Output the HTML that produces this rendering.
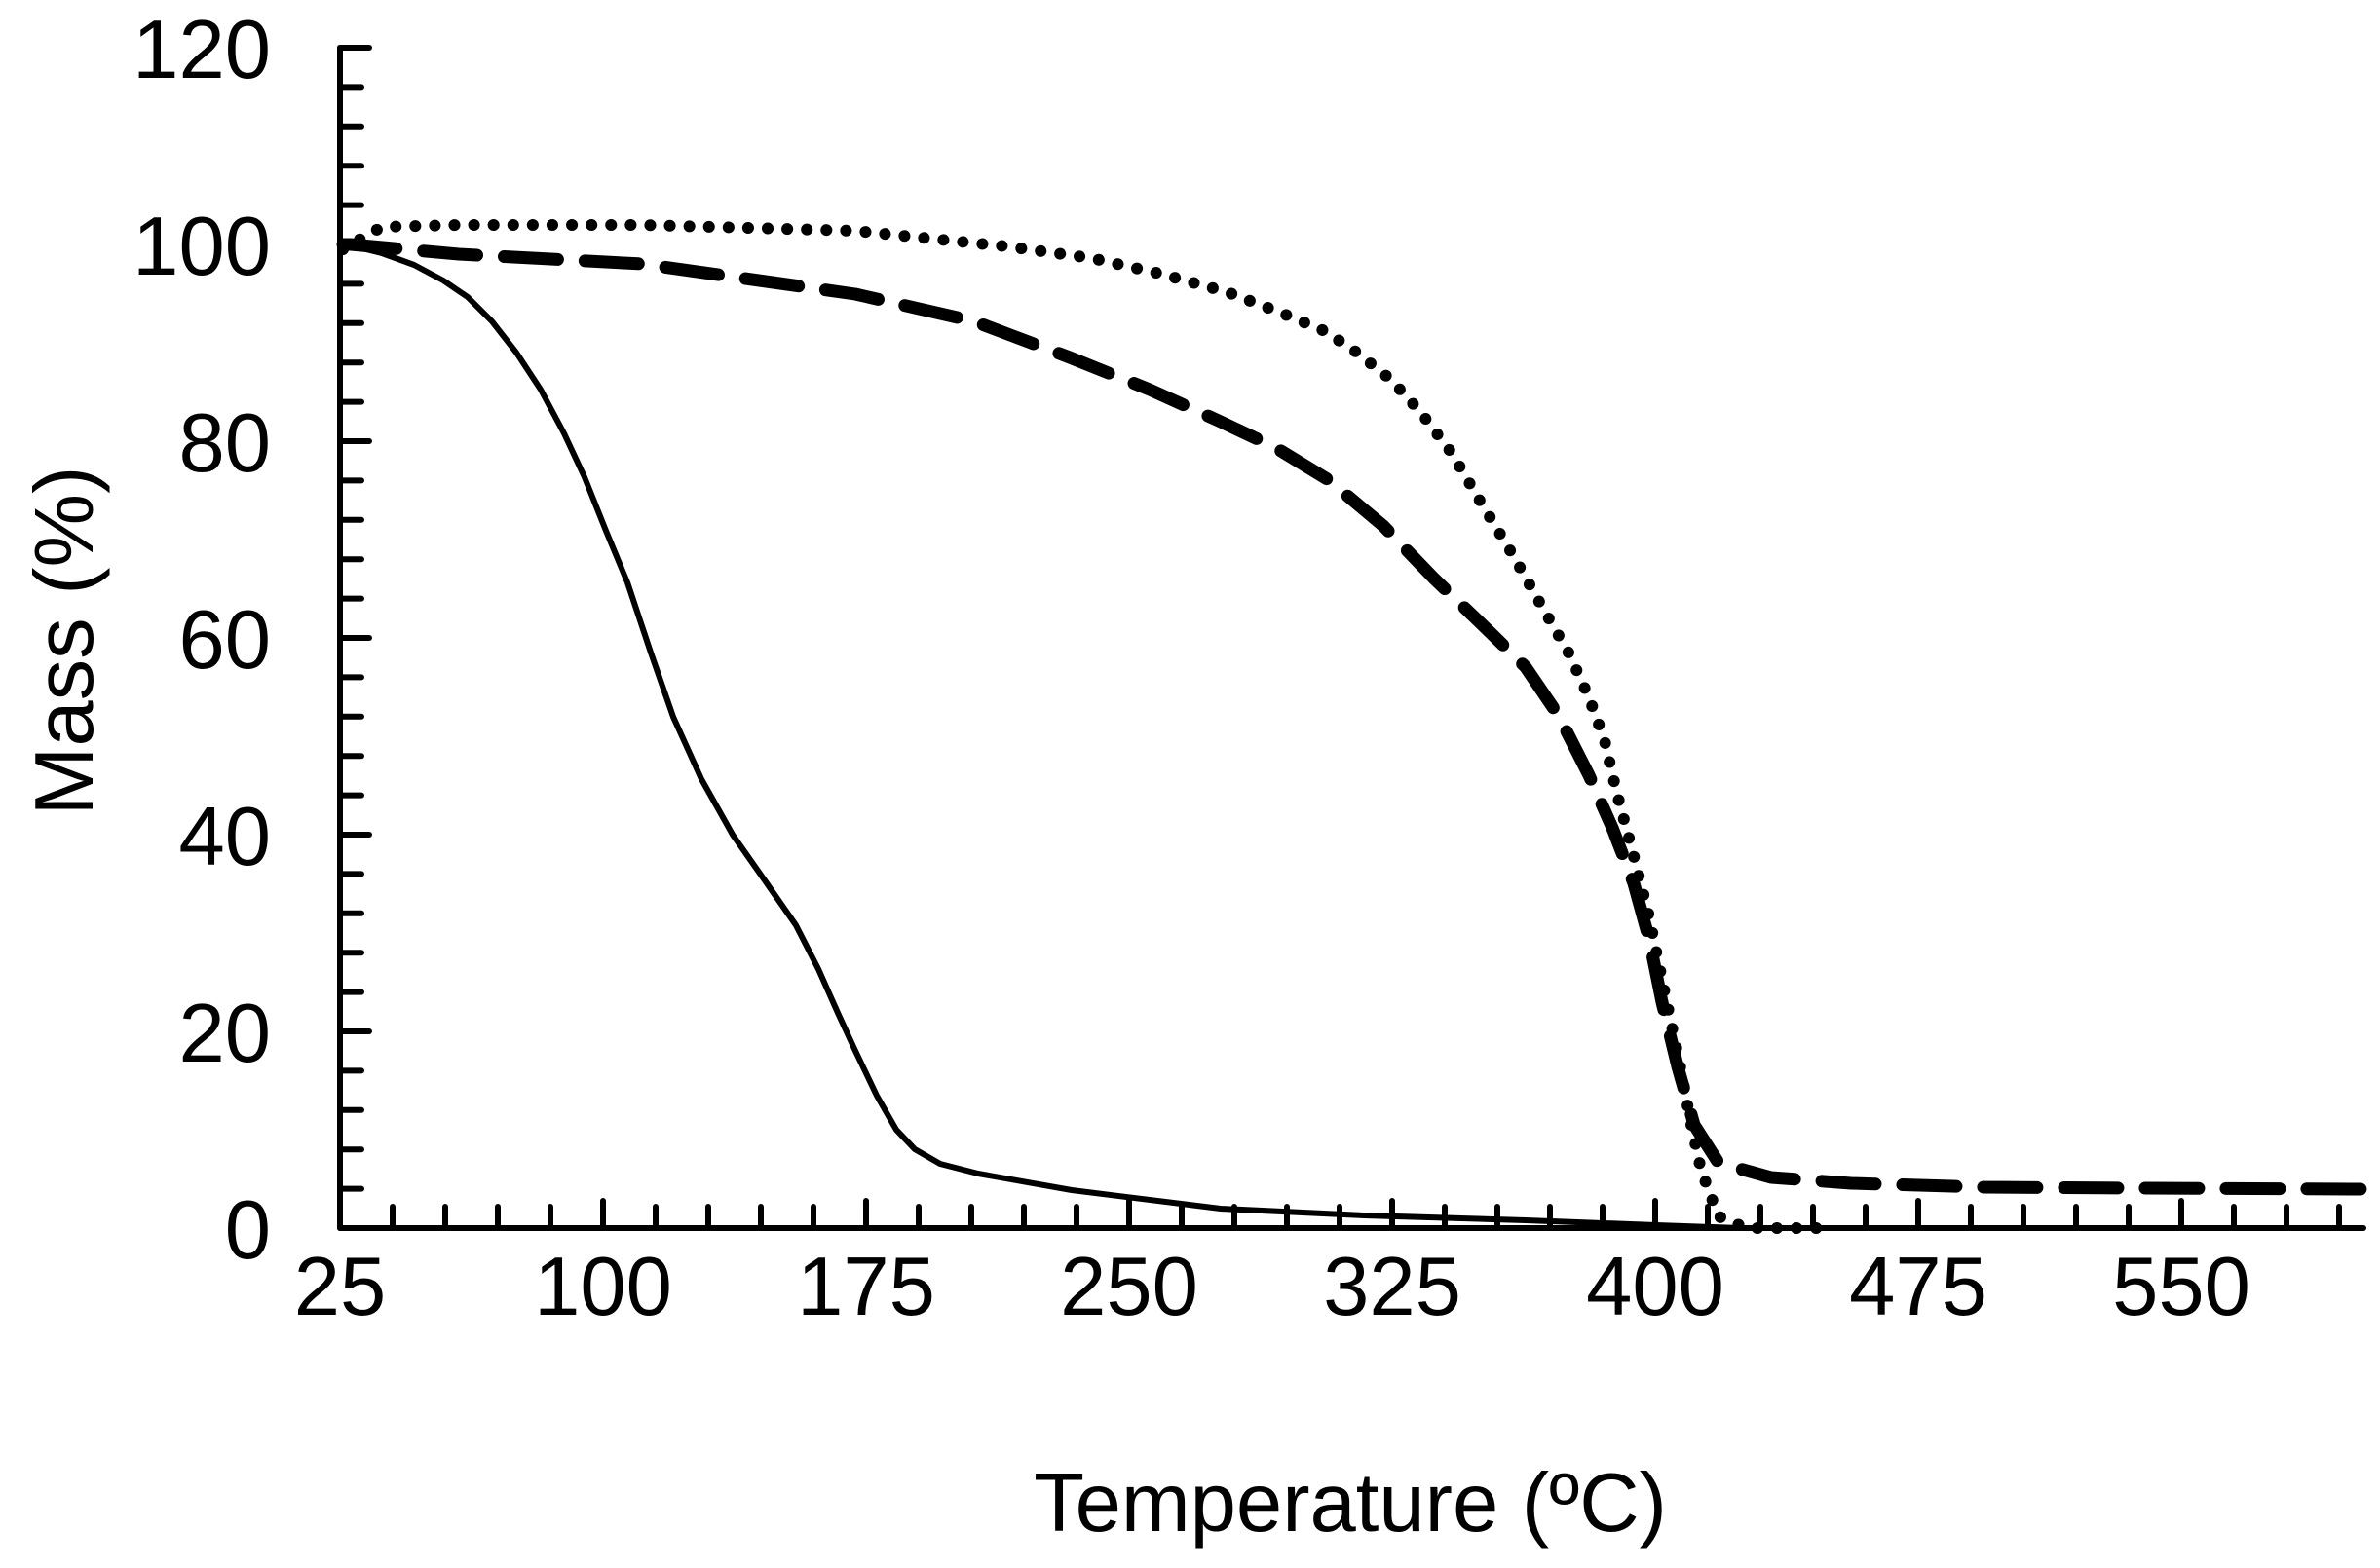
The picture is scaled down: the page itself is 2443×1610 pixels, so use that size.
<!DOCTYPE html>
<html><head><meta charset="utf-8"><style>html,body{margin:0;padding:0;background:#fff}svg{display:block}</style></head>
<body>
<svg width="2443" height="1610" viewBox="0 0 2443 1610" xmlns="http://www.w3.org/2000/svg" font-family="Liberation Sans, Arial, sans-serif">
<rect width="2443" height="1610" fill="#fff"/>
<g stroke="#000" stroke-width="6" stroke-linecap="round" fill="none">
<line x1="349" y1="49" x2="349" y2="1261"/>
<line x1="349" y1="1261" x2="2426" y2="1261"/>
<path d="M349 49h30 M349 89.4h22 M349 129.8h22 M349 170.2h22 M349 210.6h22 M349 251h30 M349 291.4h22 M349 331.8h22 M349 372.2h22 M349 412.6h22 M349 453h30 M349 493.4h22 M349 533.8h22 M349 574.2h22 M349 614.6h22 M349 655h30 M349 695.4h22 M349 735.8h22 M349 776.2h22 M349 816.6h22 M349 857h30 M349 897.4h22 M349 937.8h22 M349 978.2h22 M349 1018.6h22 M349 1059h30 M349 1099.4h22 M349 1139.8h22 M349 1180.2h22 M349 1220.6h22"/>
<path d="M403 1261v-22 M457 1261v-22 M511 1261v-22 M565 1261v-22 M619 1261v-28 M673 1261v-22 M727 1261v-22 M781 1261v-22 M835 1261v-22 M889 1261v-28 M943 1261v-22 M997 1261v-22 M1051 1261v-22 M1105 1261v-22 M1159 1261v-28 M1213 1261v-22 M1267 1261v-22 M1321 1261v-22 M1375 1261v-22 M1429 1261v-28 M1483 1261v-22 M1537 1261v-22 M1591 1261v-22 M1645 1261v-22 M1699 1261v-28 M1753 1261v-22 M1807 1261v-22 M1861 1261v-22 M1915 1261v-22 M1969 1261v-28 M2023 1261v-22 M2077 1261v-22 M2131 1261v-22 M2185 1261v-22 M2239 1261v-28 M2293 1261v-22 M2347 1261v-22 M2401 1261v-22"/>
</g>
<g fill="none" stroke="#000" stroke-linejoin="round">
<polyline stroke-width="6" points="352,258 360,252 392,260 425,272 455,288 480,305 505,330 530,362 555,400 579,445 600,490 622,545 644,598 668,670 691,736 720,800 752,857 785,904 817,950 840,995 860,1040 878,1079 900,1125 920,1160 939,1180 965,1195 1004,1205 1100,1222 1253,1241 1400,1248 1566,1253 1700,1258 1785,1261"/>
<polyline stroke-width="13" stroke-dasharray="55 28" stroke-linecap="round" points="352,251 360,251 471,261 659,271 878,302 1000,330 1098,367 1180,400 1253,433 1310,460 1364,493 1420,540 1472,594 1520,640 1566,685 1600,735 1631,796 1655,850 1677,907 1693,965 1706,1029 1722,1095 1739,1155 1764,1194 1818,1209 1900,1215 2037,1219 2200,1220 2426,1221"/>
<polyline stroke-width="12" stroke-dasharray="0.1 20" stroke-linecap="round" points="352,256 360,251 392,233 471,231 659,231 878,237 1033,253 1120,265 1191,281 1260,300 1317,322 1360,340 1393,362 1428,390 1458,423 1490,465 1519,514 1553,570 1584,625 1610,670 1631,716 1647,760 1659,812 1676,875 1692,938 1708,1015 1724,1092 1735,1150 1746,1201 1764,1249 1793,1261 1879,1261"/>
</g>
<g font-size="85" fill="#000" text-anchor="end">
<text x="278" y="80">120</text>
<text x="278" y="282">100</text>
<text x="278" y="484">80</text>
<text x="278" y="686">60</text>
<text x="278" y="888">40</text>
<text x="278" y="1090">20</text>
<text x="278" y="1292">0</text>
</g>
<g font-size="85" fill="#000" text-anchor="middle">
<text x="349" y="1350">25</text>
<text x="619" y="1350">100</text>
<text x="889" y="1350">175</text>
<text x="1159" y="1350">250</text>
<text x="1429" y="1350">325</text>
<text x="1699" y="1350">400</text>
<text x="1969" y="1350">475</text>
<text x="2239" y="1350">550</text>
<text x="1386" y="1572">Temperature (ºC)</text>
<text transform="translate(95,658) rotate(-90)">Mass (%)</text>
</g>
</svg>
</body></html>
